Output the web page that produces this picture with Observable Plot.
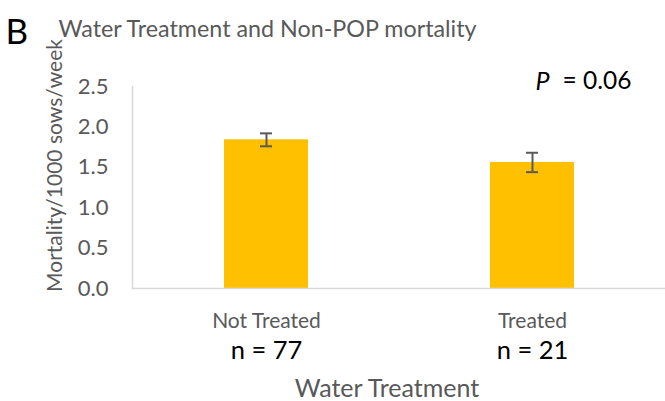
<!DOCTYPE html>
<html>
<head>
<meta charset="utf-8">
<script src="https://cdn.jsdelivr.net/npm/d3@7"></script>
<script src="https://cdn.jsdelivr.net/npm/@observablehq/plot@0.6"></script>
<style>
  html, body { margin: 0; padding: 0; background: #fff; }
  #chart svg { font-family: Lato, "Open Sans", sans-serif; display: block; }
</style>
</head>
<body>
<div id="chart"></div>
<script>
const categories = ["Not Treated", "Treated"];
const means = [1.84, 1.56];
const errors = [0.08, 0.12];
const nLabels = ["n = 77", "n = 21"];
const yTicks = [0, 0.5, 1.0, 1.5, 2.0, 2.5];
const titleText = "Water Treatment and Non-POP mortality";
const panelLetter = "B";
const yLabel = "Mortality/1000 sows/week";
const xLabel = "Water Treatment";
const pSymbol = "P";
const pValue = "= 0.06";

const rows = categories.map((c, i) => ({cat: c, mean: means[i], err: errors[i], n: nLabels[i]}));

const gray = "#595959";

const chart = Plot.plot({
  width: 665,
  height: 401,
  marginLeft: 132,
  marginRight: 0,
  marginTop: 86,
  marginBottom: 113,
  style: {fontFamily: "Lato, 'Open Sans', sans-serif", background: "#fff"},
  x: {domain: categories, paddingInner: 0.685, paddingOuter: 0.3425, axis: null},
  y: {domain: [0, 2.5], axis: null},
  marks: [
    Plot.axisY({ticks: yTicks, tickFormat: d3.format(".1f"), tickSize: 0, tickPadding: 24, fontSize: 22, fill: gray, label: null}),
    Plot.axisX({tickSize: 0, tickPadding: 25, fontSize: 21, fill: gray, label: null}),
    Plot.barY(rows, {x: "cat", y: "mean", fill: "#FFC000"}),
    Plot.frame({anchor: "left", stroke: "#d9d9d9", strokeWidth: 1.5}),
    Plot.ruleY([0], {stroke: "#d9d9d9", strokeWidth: 1.5}),
    Plot.ruleX(rows, {x: "cat", y1: d => d.mean - d.err, y2: d => d.mean + d.err, stroke: gray, strokeWidth: 2}),
    Plot.tickY(rows, {x: "cat", y: d => d.mean - d.err, stroke: gray, strokeWidth: 2, insetLeft: 36, insetRight: 36}),
    Plot.tickY(rows, {x: "cat", y: d => d.mean + d.err, stroke: gray, strokeWidth: 2, insetLeft: 36, insetRight: 36}),
    Plot.text(rows, {x: "cat", text: "n", frameAnchor: "bottom", lineAnchor: "middle", dy: 62, fontSize: 25.5, fill: "#000"}),
    Plot.text([xLabel], {text: d => d, frameAnchor: "bottom", lineAnchor: "middle", dx: -12, dy: 100, fontSize: 25, fill: gray}),
    Plot.text([yLabel], {text: d => d, frameAnchor: "left", rotate: -90, textAnchor: "middle", lineAnchor: "middle", dx: -77, dy: -22, fontSize: 21, fill: gray}),
    Plot.text([titleText], {text: d => d, frameAnchor: "top-left", textAnchor: "start", lineAnchor: "middle", dx: -74, dy: -56.5, fontSize: 23.3, fill: gray}),
    Plot.text([panelLetter], {text: d => d, frameAnchor: "top-left", textAnchor: "start", lineAnchor: "middle", dx: -127, dy: -54, fontSize: 35, fill: "#000"}),
    Plot.text([pSymbol], {text: d => d, frameAnchor: "top-left", textAnchor: "start", lineAnchor: "middle", dx: 403, dy: -5, fontSize: 25, fontStyle: "italic", fill: "#000"}),
    Plot.text([pValue], {text: d => d, frameAnchor: "top-left", textAnchor: "start", lineAnchor: "middle", dx: 430, dy: -5, fontSize: 24.5, fill: "#000"})
  ]
});
document.getElementById("chart").appendChild(chart);
</script>
</body>
</html>
